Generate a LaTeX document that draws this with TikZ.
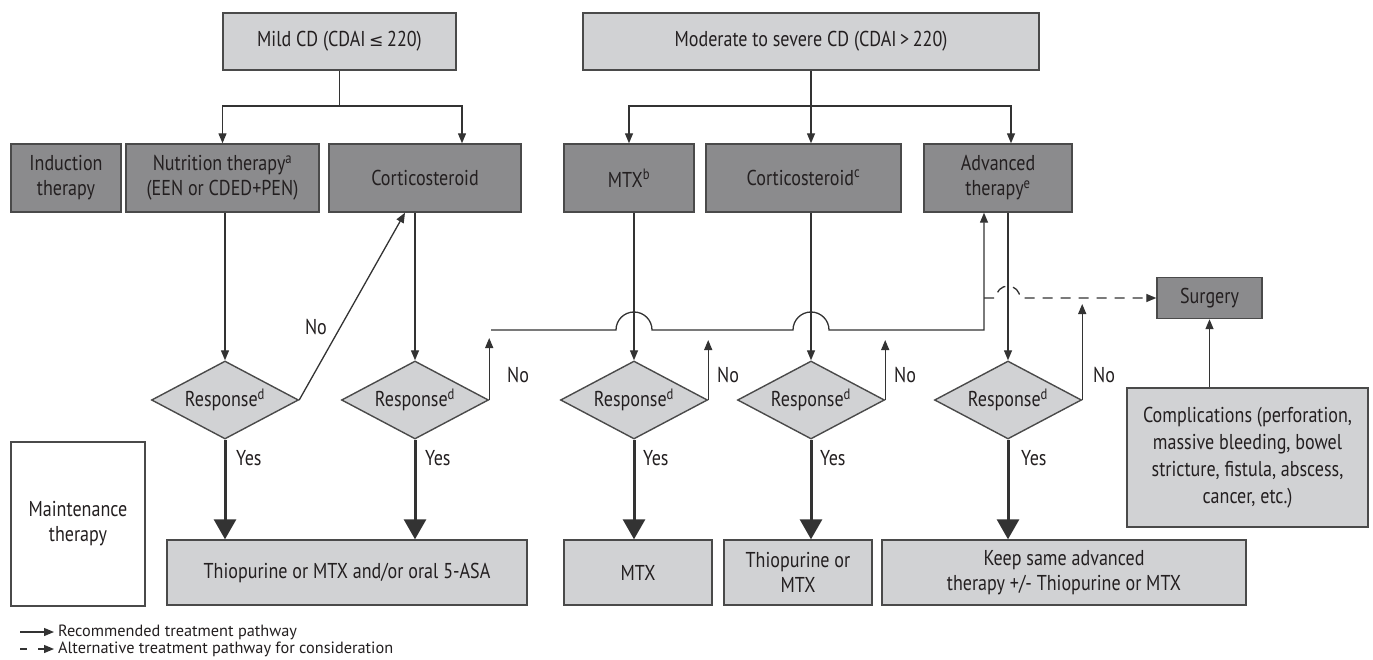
\documentclass[tikz,border=0pt]{standalone}
\usepackage{fontspec}
\setmainfont{PT Sans}[FakeStretch=0.84]
\newfontfamily\legendfont{PT Sans}
\newfontfamily\symf{DejaVu Sans}[Scale=0.8]
\usetikzlibrary{shapes.geometric,arrows.meta}
\definecolor{lightbox}{HTML}{D1D2D4}
\definecolor{darkbox}{HTML}{8B8B8D}
\definecolor{edgec}{HTML}{4A4A4A}
\definecolor{linec}{HTML}{333333}
\definecolor{txt}{HTML}{231F20}
\newcommand\mainsz{\fontsize{21.5}{25}\selectfont}
\tikzset{
  boxbase/.style={draw=edgec, line width=1.4pt, inner sep=0pt, align=center, font=\mainsz, text=txt},
  lbox/.style={boxbase, fill=lightbox},
  dbox/.style={boxbase, fill=darkbox},
  wbox/.style={boxbase, fill=white},
  resp/.style={diamond, draw=edgec, fill=lightbox, line width=1.4pt, inner sep=0pt, aspect=1.9,
     minimum width=147pt, minimum height=78pt, font=\mainsz, text=txt},
  lbl/.style={font=\mainsz, text=txt, inner sep=0pt},
  plainline/.style={draw=linec, line width=1.3pt},
  arr/.style={plainline, -{Triangle[width=8pt,length=10pt]}},
  yesarr/.style={draw=linec, line width=3pt, -{Triangle[width=22pt,length=20pt]}},
  dasharr/.style={arr, dash pattern=on 10pt off 8pt},
}
\begin{document}
\begin{tikzpicture}[x=1pt,y=-1pt]
\fill[white] (0,0) rectangle (1373,660);
\useasboundingbox (0,0) rectangle (1373,660);

% top boxes
\node[lbox, minimum width=233pt, minimum height=57pt] (mild) at (339.5,41.5) {Mild CD (CDAI\,{\symf ≤}\,220)};
\node[lbox, minimum width=456pt, minimum height=57pt] (mod) at (811,41.5) {Moderate to severe CD (CDAI\,>\,220)};

% induction row
\node[dbox, minimum width=110pt, minimum height=68pt] (induc) at (66,178) {Induction\\therapy};
\node[dbox, minimum width=193pt, minimum height=68pt] (nutr) at (222.5,178) {Nutrition therapy\textsuperscript{a}\\(EEN or CDED+PEN)};
\node[dbox, minimum width=192pt, minimum height=68pt] (cort) at (425,178) {Corticosteroid};
\node[dbox, minimum width=130pt, minimum height=68pt] (mtx) at (629,178) {MTX\textsuperscript{b}};
\node[dbox, minimum width=195pt, minimum height=68pt] (cortc) at (803.5,178) {Corticosteroid\textsuperscript{c}};
\node[dbox, minimum width=148pt, minimum height=68pt] (adv) at (998,178) {Advanced\\therapy\textsuperscript{e}};

% diamonds
\node[resp] (d1) at (225,400) {Response\textsuperscript{d}};
\node[resp] (d2) at (415,400) {Response\textsuperscript{d}};
\node[resp] (d3) at (634,400) {Response\textsuperscript{d}};
\node[resp] (d4) at (811,400) {Response\textsuperscript{d}};
\node[resp] (d5) at (1008,400) {Response\textsuperscript{d}};

% surgery and complications
\node[dbox, minimum width=105pt, minimum height=41pt] (surg) at (1209.5,298) {Surgery};
\node[lbox, minimum width=241pt, minimum height=139pt, font=\fontsize{21.5}{27}\selectfont] (comp) at (1247.5,457.5)
  {Complications (perforation,\\massive bleeding, bowel\\stricture, fistula, abscess,\\cancer, etc.)};

% maintenance row
\node[wbox, minimum width=134pt, minimum height=164pt] (maint) at (78,524) {Maintenance\\therapy};
\node[lbox, minimum width=360pt, minimum height=65pt] (b1) at (347,572.5) {Thiopurine or MTX and/or oral 5-ASA};
\node[lbox, minimum width=148pt, minimum height=65pt] (b2) at (638,572.5) {MTX};
\node[lbox, minimum width=148pt, minimum height=65pt] (b3) at (798,572.5) {Thiopurine or\\MTX};
\node[lbox, minimum width=364pt, minimum height=65pt] (b4) at (1064,572.5) {Keep same advanced\\therapy +/- Thiopurine or MTX};

% top connectors
\coordinate (mj) at (mild.south |- 0,106);
\draw[plainline] (mild.south) -- (mj);
\draw[arr] (mj) -| (nutr.north);
\draw[arr] (mj) -| ([xshift=37pt]cort.north);
\coordinate (modj) at (mod.south |- 0,106);
\draw[plainline] (mod.south) -- (modj);
\draw[arr] (modj) -| (mtx.north);
\draw[arr] (modj) -- (modj |- cortc.north);
\draw[arr] (modj) -| ([xshift=13pt]adv.north);

% box to diamond
\draw[arr] (d1.north |- nutr.south) -- (d1.north);
\draw[arr] (d2.north |- cort.south) -- (d2.north);
\draw[arr] (d3.north |- mtx.south) -- (d3.north);
\draw[arr] (d4.north |- cortc.south) -- (d4.north);
\draw[arr] (d5.north |- adv.south) -- (d5.north);

% No branches
\draw[arr] (d1.east) -- ([xshift=-20pt]cort.south);
\node[lbl] (no1) at (316,327) {No};
\draw[arr] (d2.east) -- ++(0,-62);
\node[lbl, anchor=west] (no2) at (507,375) {No};
\draw[arr] (d3.east) -- ++(0,-60);
\node[lbl, anchor=west] (no3) at (717,375) {No};
\draw[arr] (d4.east) -- ++(0,-60);
\node[lbl, anchor=west] (no4) at (894,375) {No};
\draw[arr] (d5.east) -- ++(0,-96);
\node[lbl, anchor=west] (no5) at (1093,375) {No};

% long horizontal with line jumps
\coordinate (hl) at ([xshift=2pt]d2.east |- 0,330);
\draw[arr] (hl) -- ([xshift=-18pt]d3.north |- hl) arc[start angle=180,end angle=0,radius=18pt]
  -- ([xshift=-18pt]d4.north |- hl) arc[start angle=180,end angle=0,radius=18pt]
  -- ([xshift=-14pt]adv.south |- hl) -- ([xshift=-14pt]adv.south);

% dashed to surgery
\coordinate (ds) at ([xshift=-14pt]adv.south |- surg.west);
\draw[dasharr] (ds) -- ([xshift=-12pt]d5.north |- ds) arc[start angle=180,end angle=0,radius=12pt] -- (surg.west);
\draw[arr] (comp.north -| surg.south) -- (surg.south);

% Yes branches
\draw[yesarr] (d1.south) -- (d1.south |- b1.north);
\draw[yesarr] (d2.south) -- (d2.south |- b1.north);
\draw[yesarr] (d3.south) -- (d3.south |- b2.north);
\draw[yesarr] (d4.south) -- (d4.south |- b3.north);
\draw[yesarr] (d5.south) -- (d5.south |- b4.north);
\node[lbl, anchor=west] (y1) at (236,458) {Yes};
\node[lbl, anchor=west] (y2) at (425,458) {Yes};
\node[lbl, anchor=west] (y3) at (643,458) {Yes};
\node[lbl, anchor=west] (y4) at (820,458) {Yes};
\node[lbl, anchor=west] (y5) at (1021,458) {Yes};

% legend
\coordinate (la) at (20,632);
\coordinate (lb) at (54,632);
\draw[arr, line width=1.2pt] (la) -- (lb);
\node[anchor=west, inner sep=0pt, font=\legendfont\fontsize{16.3}{18}\selectfont, text=txt] (leg1) at (58,632) {Recommended treatment pathway};
\coordinate (lc) at (20,649);
\coordinate (ld) at (54,649);
\draw[arr, line width=1.2pt, dash pattern=on 7pt off 11pt] (lc) -- (ld);
\node[anchor=west, inner sep=0pt, font=\legendfont\fontsize{16.3}{18}\selectfont, text=txt] (leg2) at (58,649) {Alternative treatment pathway for consideration};
\end{tikzpicture}
\end{document}
